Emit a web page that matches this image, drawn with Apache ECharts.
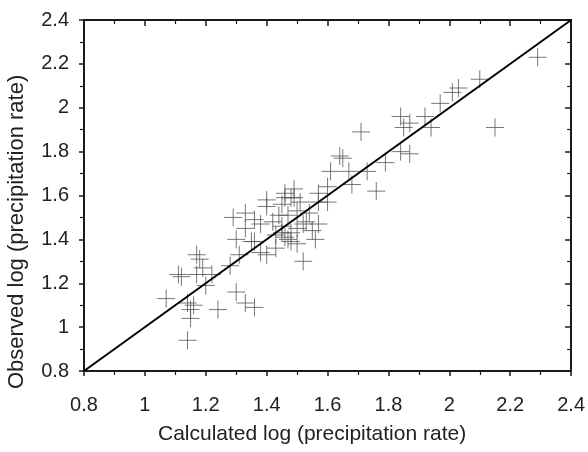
<!DOCTYPE html>
<html>
<head>
<meta charset="utf-8">
<script src="https://cdn.jsdelivr.net/npm/echarts@6/dist/echarts.min.js"></script>
<style>
  html, body { margin: 0; padding: 0; background: #fff; }
  #chart { width: 588px; height: 452px; }
</style>
</head>
<body>
<div id="chart"></div>
<script>
// calculated vs observed log(precipitation rate)
var calcLog = [
  1.14, 1.07, 1.11, 1.17, 1.17, 1.18, 1.19, 1.20, 1.15, 1.16,
  1.14, 1.15, 1.24, 1.30, 1.33, 1.36, 1.28, 1.31, 1.30, 1.29,
  1.33, 1.36, 1.33, 1.35, 1.38, 1.40, 1.36, 1.40, 1.40, 1.43,
  1.45, 1.47, 1.46, 1.48, 1.44, 1.47, 1.50, 1.45, 1.45, 1.48,
  1.46, 1.49, 1.46, 1.48, 1.52, 1.53, 1.56, 1.52, 1.51, 1.49,
  1.57, 1.57, 1.60, 1.57, 1.60, 1.61, 1.64, 1.65, 1.68, 1.67,
  1.73, 1.76, 1.79, 1.71, 1.84, 1.87, 1.84, 1.85, 1.87, 1.92,
  1.94, 1.97, 2.01, 2.03, 2.10, 2.15, 2.29, 1.42, 1.50, 1.54,
  1.38, 1.55, 1.43, 1.50, 1.22, 1.12
];
var obsLog = [
  0.94, 1.13, 1.24, 1.24, 1.33, 1.31, 1.27, 1.19, 1.08, 1.10,
  1.11, 1.04, 1.08, 1.16, 1.11, 1.09, 1.28, 1.33, 1.40, 1.50,
  1.52, 1.49, 1.45, 1.39, 1.34, 1.33, 1.39, 1.55, 1.58, 1.42,
  1.43, 1.40, 1.41, 1.39, 1.51, 1.51, 1.53, 1.46, 1.56, 1.59,
  1.61, 1.63, 1.59, 1.43, 1.47, 1.48, 1.40, 1.30, 1.57, 1.59,
  1.47, 1.57, 1.57, 1.61, 1.64, 1.71, 1.78, 1.77, 1.65, 1.71,
  1.71, 1.62, 1.75, 1.89, 1.80, 1.79, 1.96, 1.91, 1.93, 1.96,
  1.91, 2.02, 2.07, 2.09, 2.13, 1.91, 2.23, 1.48, 1.45, 1.52,
  1.47, 1.44, 1.36, 1.38, 1.24, 1.23
];
// 1:1 reference line
var lineX = [0.8, 2.4];
var lineY = [0.8, 2.4];
var axisMin = 0.8, axisMax = 2.4, axisStep = 0.2;

var points = calcLog.map(function (v, i) { return [v, obsLog[i]]; });
var linePts = lineX.map(function (v, i) { return [v, lineY[i]]; });

var chart = echarts.init(document.getElementById('chart'));
var font = 'Liberation Sans, Arial, sans-serif';

function makeAxis(inside, labels) {
  return {
    type: 'value',
    min: axisMin,
    max: axisMax,
    interval: axisStep,
    axisLine: { show: true, lineStyle: { color: '#1a1a1a', width: 2 } },
    axisTick: { show: true, inside: inside, length: inside ? 6 : 5, lineStyle: { color: '#1a1a1a', width: 1.5 } },
    minorTick: { show: true, splitNumber: 2, length: 4, lineStyle: { color: '#1a1a1a', width: 1.2 } },
    splitLine: { show: false },
    minorSplitLine: { show: false },
    axisLabel: labels ? {} : { show: false }
  };
}

var x0 = makeAxis(false, true);
x0.axisLabel = { show: true, margin: 24, fontSize: 20, color: '#222', fontFamily: font };
var x1 = makeAxis(true, false);
var y0 = makeAxis(false, true);
y0.axisLabel = { show: true, margin: 15, fontSize: 20, color: '#222', fontFamily: font };
var y1 = makeAxis(true, false);

var option = {
  backgroundColor: '#fff',
  animation: false,
  grid: {
    left: 84, right: 13, top: 20, bottom: 81,
    show: true, borderColor: '#1a1a1a', borderWidth: 1.5
  },
  xAxis: [x0, x1],
  yAxis: [y0, y1],
  graphic: [
    {
      type: 'text', left: 158, top: 424,
      style: { text: 'Calculated log (precipitation rate)', font: '21px ' + font, fill: '#222' }
    },
    {
      type: 'text', x: 6, y: 389, rotation: Math.PI / 2,
      style: { text: 'Observed log (precipitation rate)', font: '22px ' + font, fill: '#222' }
    }
  ],
  series: [
    {
      type: 'line',
      data: linePts,
      symbol: 'none',
      lineStyle: { color: '#000', width: 2 },
      z: 3
    },
    {
      type: 'scatter',
      data: points,
      symbol: 'path://M0,10L20,10M10,0L10,20',
      symbolSize: [18, 18],
      itemStyle: { color: 'none', borderColor: '#555', borderWidth: 1 },
      z: 2
    }
  ]
};
chart.setOption(option);
</script>
</body>
</html>
